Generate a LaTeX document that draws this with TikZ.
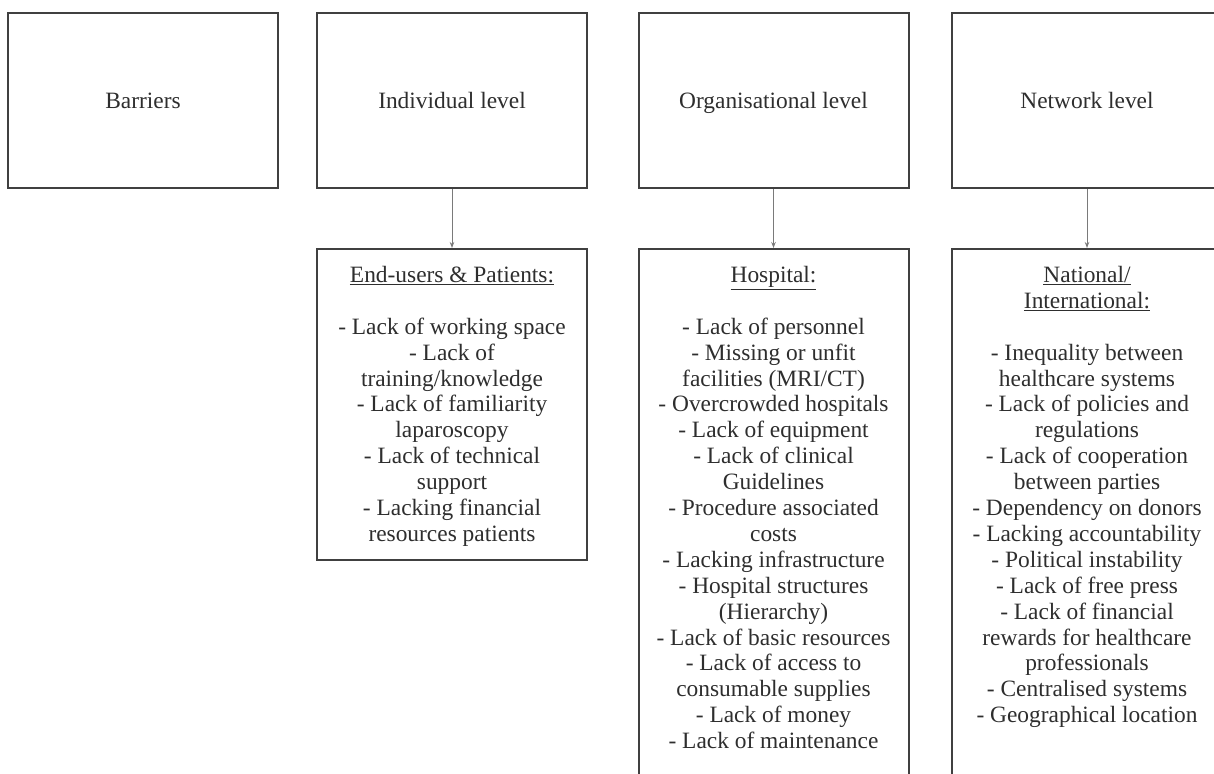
\documentclass[tikz,border=0pt]{standalone}
\usepackage{fontspec}
\setmainfont{Liberation Serif}
\newfontfamily\tnrfont{Liberation Serif}
\usetikzlibrary{arrows.meta}
\definecolor{boxline}{HTML}{404040}
\definecolor{txt}{HTML}{2E2E2E}
\definecolor{arrowgray}{HTML}{7A7A7A}
\tikzset{
  topbox/.style={draw=boxline, line width=2pt, minimum width=270pt, minimum height=175pt, inner sep=0pt, text height=20pt, text depth=3pt, text=txt, font=\tnrfont\fontsize{23.4}{25.9}\selectfont},
  lowbox/.style={draw=boxline, line width=2pt, minimum width=270pt, inner sep=0pt},
  boxtext/.style={anchor=north, align=center, inner sep=0pt, text=txt, font=\tnrfont\fontsize{23.4}{25.9}\selectfont},
  conn/.style={draw=arrowgray, line width=1pt, -{Stealth[length=6pt,width=4.5pt]}}
}
\begin{document}
\begin{tikzpicture}[x=1pt,y=-1pt]
\useasboundingbox[fill=white] (0,0) rectangle (1214,773);
% top row
\node[topbox] (bar) at (143,100.5) {Barriers};
\node[topbox] (ind) at (452,100.5) {Individual level};
\node[topbox] (org) at (773.5,100.5) {Organisational level};
\node[topbox] (net) at (1087,100.5) {Network level};
% lower boxes
\node[lowbox, minimum height=311pt] (indL) at (452,404.5) {};
\node[lowbox, minimum height=600pt] (orgL) at (773.5,549) {};
\node[lowbox, minimum height=600pt] (netL) at (1087,549) {};
% texts
\node[boxtext] (indT) at ([yshift=-18pt]indL.north) {\underline{End-users \& Patients:}\\[25.9pt]
- Lack of working space\\
- Lack of\\
training/knowledge\\
- Lack of familiarity\\
laparoscopy\\
- Lack of technical\\
support\\
- Lacking financial\\
resources patients};
\node[boxtext] (orgT) at ([yshift=-18pt]orgL.north) {\underline{Hospital:}\\[25.9pt]
- Lack of personnel\\
- Missing or unfit\\
facilities (MRI/CT)\\
- Overcrowded hospitals\\
- Lack of equipment\\
- Lack of clinical\\
Guidelines\\
- Procedure associated\\
costs\\
- Lacking infrastructure\\
- Hospital structures\\
(Hierarchy)\\
- Lack of basic resources\\
- Lack of access to\\
consumable supplies\\
- Lack of money\\
- Lack of maintenance};
\node[boxtext] (netT) at ([yshift=-18pt]netL.north) {\underline{National/}\\
\underline{International:}\\[25.9pt]
- Inequality between\\
healthcare systems\\
- Lack of policies and\\
regulations\\
- Lack of cooperation\\
between parties\\
- Dependency on donors\\
- Lacking accountability\\
- Political instability\\
- Lack of free press\\
- Lack of financial\\
rewards for healthcare\\
professionals\\
- Centralised systems\\
- Geographical location};
% connectors
\draw[conn] (ind.south) -- (indL.north);
\draw[conn] (org.south) -- (orgL.north);
\draw[conn] (net.south) -- (netL.north);
\end{tikzpicture}
\end{document}
